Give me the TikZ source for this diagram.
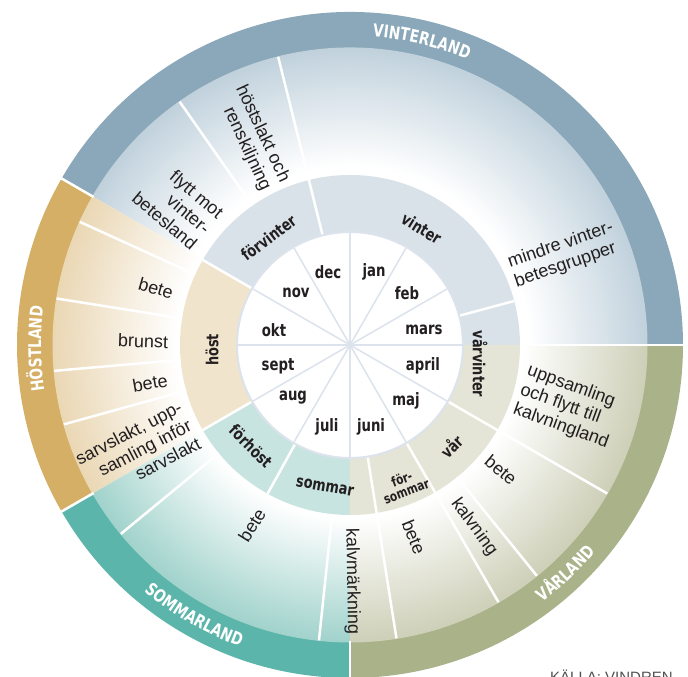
\documentclass[tikz,border=0pt]{standalone}
\usepackage{fontspec}
\usetikzlibrary{decorations.text}
\newfontfamily\condb{DejaVu Sans}[FakeStretch=0.78]
\newfontfamily\actfont{Liberation Sans}
\definecolor{bandV}{RGB}{138,168,185}
\definecolor{bandH}{RGB}{212,175,101}
\definecolor{bandS}{RGB}{92,181,170}
\definecolor{bandW}{RGB}{170,178,138}
\definecolor{ringV}{RGB}{217,226,233}
\definecolor{ringH}{RGB}{240,228,204}
\definecolor{ringS}{RGB}{200,228,224}
\definecolor{ringW}{RGB}{228,229,214}
\definecolor{tintV}{RGB}{192,209,220}
\definecolor{tintH}{RGB}{234,215,180}
\definecolor{tintS}{RGB}{160,210,203}
\definecolor{tintW}{RGB}{205,207,183}
\definecolor{spoke}{RGB}{220,227,236}
\definecolor{ink}{RGB}{35,31,32}
\definecolor{srcgray}{RGB}{80,80,80}
\pgfdeclareradialshading{shadeV}{\pgfpoint{0bp}{0bp}}{color(0bp)=(white); color(15bp)=(white); color(25bp)=(tintV); color(50bp)=(tintV)}
\pgfdeclareradialshading{shadeH}{\pgfpoint{0bp}{0bp}}{color(0bp)=(white); color(14.5bp)=(white); color(25bp)=(tintH); color(50bp)=(tintH)}
\pgfdeclareradialshading{shadeS}{\pgfpoint{0bp}{0bp}}{color(0bp)=(white); color(14.5bp)=(white); color(25bp)=(tintS); color(50bp)=(tintS)}
\pgfdeclareradialshading{shadeW}{\pgfpoint{0bp}{0bp}}{color(0bp)=(white); color(14.5bp)=(white); color(25bp)=(tintW); color(50bp)=(tintW)}
\newcommand\annsec[4]{(#1:#3pt) arc[start angle=#1, end angle=#2, radius=#3pt] -- (#2:#4pt) arc[start angle=#2, end angle=#1, radius=#4pt] -- cycle}
\newcommand\bandfont{\condb\bfseries\fontsize{17.5}{17.5}\selectfont\color{white}}
\tikzset{
  mon/.style={font=\condb\bfseries\fontsize{17}{17}\selectfont, text=ink, inner sep=0pt},
  seas/.style={font=\condb\bfseries\fontsize{16.5}{16.5}\selectfont, text=ink, inner sep=0pt},
  seassmall/.style={font=\condb\bfseries\fontsize{13.5}{13}\selectfont, text=ink, inner sep=0pt, align=center},
  act/.style={font=\actfont\fontsize{18}{20.5}\selectfont, text=ink, inner sep=0pt},
  divw/.style={white, line width=2.5pt},
  monspoke/.style={spoke, line width=1.5pt},
  bandlabel/.style={decorate, decoration={text along path, text align=center, text={#1}}}
}
\begin{document}
\begin{tikzpicture}[x=1pt,y=1pt]
\useasboundingbox (-350,-332) rectangle (338,345);
% outer land band
\fill[bandV] \annsec{0}{150}{297}{333};
\fill[bandH] \annsec{150}{210}{297}{333};
\fill[bandS] \annsec{210}{270}{297}{333};
\fill[bandW] \annsec{270}{360}{297}{333};
% activity ring with radial gradients
\begin{scope}
  \clip \annsec{0}{150}{169}{297.5};
  \shade[shading=shadeV] (0,0) circle (298pt);
\end{scope}
\begin{scope}
  \clip \annsec{150}{210}{169}{297.5};
  \shade[shading=shadeH] (0,0) circle (298pt);
\end{scope}
\begin{scope}
  \clip \annsec{210}{270}{169}{297.5};
  \shade[shading=shadeS] (0,0) circle (298pt);
\end{scope}
\begin{scope}
  \clip \annsec{270}{360}{169}{297.5};
  \shade[shading=shadeW] (0,0) circle (298pt);
\end{scope}
% season ring
\fill[ringV] \annsec{0}{150}{112}{170};
\fill[ringH] \annsec{150}{210}{112}{170};
\fill[ringS] \annsec{210}{270}{112}{170};
\fill[ringW] \annsec{270}{360}{112}{170};
% season dividers
\foreach \a in {15,150,210,241} \draw[divw] (\a:112pt) -- (\a:170pt);
% dividers through season and activity rings
\foreach \a in {104,279,300,330} \draw[divw] (\a:112pt) -- (\a:297pt);
% activity dividers
\foreach \a in {125,155.5,171,185,195.5,219.5,264,309} \draw[divw] (\a:170pt) -- (\a:297pt);
\draw[divw] (0:170pt) -- (0:334pt);
% band dividers
\foreach \a in {150,210,270} \draw[divw] (\a:296pt) -- (\a:334pt);
% month circle
\draw[spoke, line width=2pt, fill=white] (0,0) circle (113pt);
\foreach \a in {0,30,...,330} \draw[monspoke] (0,0) -- (\a:112pt);
% months
\node[mon] (dec) at (-22,73) {dec};
\node[mon] (jan) at (24,73) {jan};
\node[mon] (feb) at (57,52) {feb};
\node[mon] (mars) at (74,15) {mars};
\node[mon] (april) at (73,-21) {april};
\node[mon] (maj) at (56,-56) {maj};
\node[mon] (juni) at (21,-82) {juni};
\node[mon] (juli) at (-23,-82) {juli};
\node[mon] (aug) at (-57,-53) {aug};
\node[mon] (sept) at (-72,-21) {sept};
\node[mon] (okt) at (-76,15) {okt};
\node[mon] (nov) at (-54,52) {nov};
% seasons
\node[seas, rotate=-31.5] (vinter) at (71.5,116.5) {vinter};
\node[seas, rotate=37] (forvinter) at (-81.5,107.5) {förvinter};
\node[seas, rotate=90] (host) at (-138,-5) {höst};
\node[seas, rotate=-45] (forhost) at (-99,-101) {förhöst};
\node[seas, rotate=-10] (sommar) at (-25,-142) {sommar};
\node[seassmall, rotate=21] (forsommar) at (54,-140) {för-\\sommar};
\node[seas, rotate=45] (var) at (101,-101) {vår};
\node[seas, rotate=-90] (varvinter) at (130,-19) {vårvinter};
% activities
\node[act, rotate=-65, align=right] (a1) at (-97,207) {höstslakt och\\renskiljning};
\node[act, rotate=-40, align=right] (a2) at (-172,140) {flytt mot\\vinter-\\betesland};
\node[act, rotate=19, align=left] (a3) at (214,90) {mindre vinter-\\betesgrupper};
\node[act, rotate=-16] (a4) at (-194,57) {bete};
\node[act, rotate=-2] (a5) at (-207,4) {brunst};
\node[act, rotate=10] (a6) at (-200,-38) {bete};
\node[act, rotate=27.5, align=right] (a7) at (-212,-106) {sarvslakt, upp-\\samling inför\\sarvslakt};
\node[act, rotate=58] (a8) at (-98,-180) {bete};
\node[act, rotate=-89] (a9) at (2,-236) {kalvmärkning};
\node[act, rotate=-68] (a10) at (64,-192) {bete};
\node[act, rotate=-54] (a11) at (124,-182) {kalvning};
\node[act, rotate=-40] (a12) at (151,-125) {bete};
\node[act, rotate=-20, align=left] (a13) at (218,-62) {uppsamling\\och flytt till\\kalvningland};
% land labels
\path[bandlabel={|\bandfont|VINTERLAND}] (111.7:309pt) arc[start angle=111.7, end angle=41.7, radius=309pt];
\path[bandlabel={|\bandfont|HÖSTLAND}] (215.7:309pt) arc[start angle=215.7, end angle=145.7, radius=309pt];
\path[bandlabel={|\bandfont|SOMMARLAND}] (205:321pt) arc[start angle=205, end angle=275, radius=321pt];
\path[bandlabel={|\bandfont|VÅRLAND}] (278.3:321pt) arc[start angle=278.3, end angle=348.3, radius=321pt];
% source
\node[anchor=base west, font=\actfont\fontsize{15}{15}\selectfont, text=srcgray, inner sep=0pt] (src) at (200,-337) {KÄLLA: VINDREN};
\end{tikzpicture}
\end{document}
